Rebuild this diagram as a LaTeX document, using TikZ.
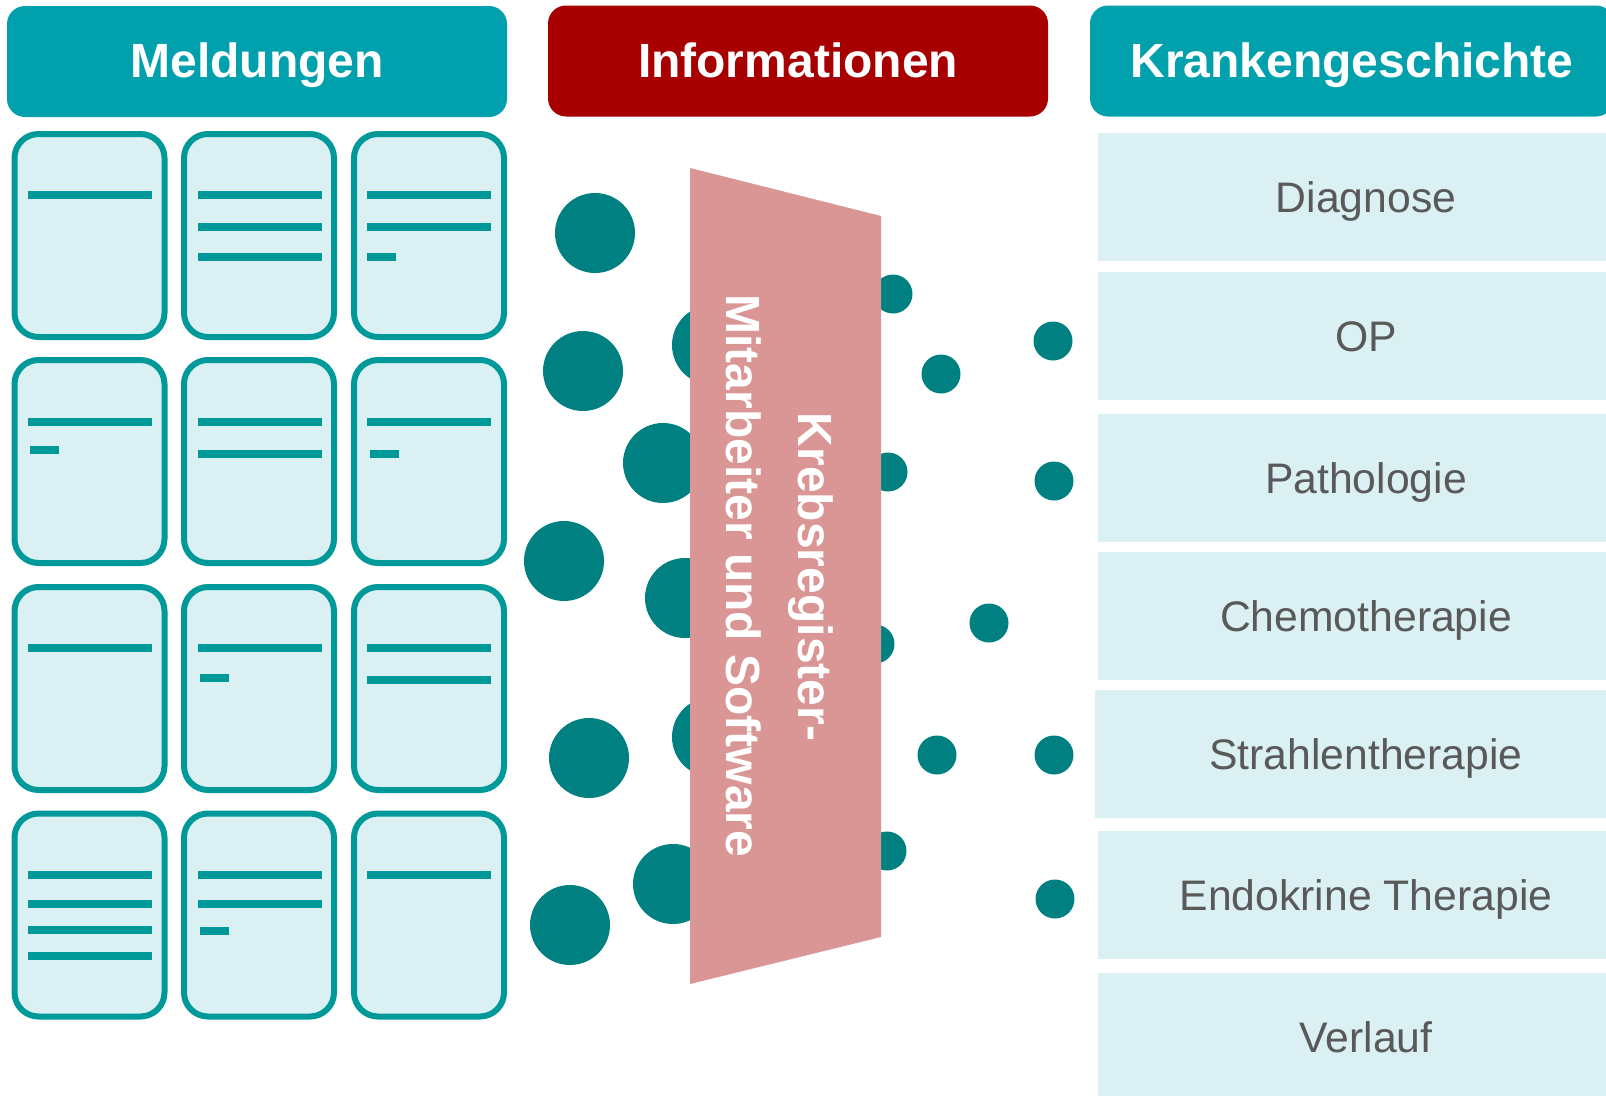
\documentclass[tikz,border=0pt]{standalone}
\usepackage{fontspec}
\setmainfont{Liberation Sans}
\definecolor{hdrteal}{RGB}{0,161,173}
\definecolor{cardline}{RGB}{0,153,153}
\definecolor{cardfill}{RGB}{218,240,242}
\definecolor{dotc}{RGB}{0,128,128}
\definecolor{hdrred}{RGB}{168,0,0}
\definecolor{pinkc}{RGB}{217,150,148}
\definecolor{graytext}{RGB}{89,89,89}
\begin{document}
\begin{tikzpicture}[x=1pt,y=-1pt,
  hdrbox/.style={fill=#1, rounded corners=18pt, inner sep=0pt, minimum height=111pt},
  hdrtext/.style={text=white, inner sep=0pt, anchor=base, font=\bfseries\fontsize{48}{57}\selectfont},
  card/.style={draw=cardline, fill=cardfill, line width=6pt, rounded corners=24pt, inner sep=0pt, minimum width=150pt, minimum height=203pt},
  cline/.style={draw=cardline, line width=8pt},
  rbox/.style={fill=cardfill, inner sep=0pt, minimum height=128pt, text=graytext, text height=31pt, text depth=0pt, font=\fontsize{42.7}{50}\selectfont},
  bigdot/.style={fill=dotc},
  trtext/.style={text=white, inner sep=0pt, anchor=base, rotate=-90, font=\bfseries\fontsize{48}{57}\selectfont}
]
\useasboundingbox (0,0) rectangle (1606,1095);
\fill[white] (0,0) rectangle (1606,1095);
\clip (0,0) rectangle (1606,1095);

% headers
\node[hdrbox=hdrteal, minimum width=500pt] (hmeld) at (257,61.5) {};
\node[hdrtext] (tmeld) at (257,77) {Meldungen};
\node[hdrbox=hdrred, minimum width=500pt] (hinfo) at (798,61) {};
\node[hdrtext] (tinfo) at (798,77) {Informationen};
\node[hdrbox=hdrteal, minimum width=524pt] (hkrank) at (1352,61) {};
\node[hdrtext] (tkrank) at (1352,77) {Krankengeschichte};

% cards
\foreach \cx [count=\i] in {89.5,259,429}{
  \foreach \cy [count=\j] in {235.5,461.5,688.5,915}{
    \node[card] (card\j\i) at (\cx,\cy) {};
  }
}
% row 1
\draw[cline] (28,195) -- (152,195);
\draw[cline] (198,195) -- (322,195);
\draw[cline] (198,227) -- (322,227);
\draw[cline] (198,257) -- (322,257);
\draw[cline] (367,195) -- (491,195);
\draw[cline] (367,227) -- (491,227);
\draw[cline] (367,257) -- (396,257);
% row 2
\draw[cline] (28,422) -- (152,422);
\draw[cline] (30,450) -- (59,450);
\draw[cline] (198,422) -- (322,422);
\draw[cline] (198,454) -- (322,454);
\draw[cline] (367,422) -- (491,422);
\draw[cline] (370,454) -- (399,454);
% row 3
\draw[cline] (28,648) -- (152,648);
\draw[cline] (198,648) -- (322,648);
\draw[cline] (200,678) -- (229,678);
\draw[cline] (367,648) -- (491,648);
\draw[cline] (367,680) -- (491,680);
% row 4
\draw[cline] (28,875) -- (152,875);
\draw[cline] (28,904) -- (152,904);
\draw[cline] (28,930) -- (152,930);
\draw[cline] (28,956) -- (152,956);
\draw[cline] (198,875) -- (322,875);
\draw[cline] (198,904) -- (322,904);
\draw[cline] (200,931) -- (229,931);
\draw[cline] (367,875) -- (491,875);

% dots (left, big)
\foreach \x/\y in {595/233,583/371,663/463,564/561,589/758,570/925,712/345,685/598,712/737,673/884}{
  \fill[bigdot] (\x,\y) circle[radius=40pt];
}
% dots (right, small)
\foreach \x/\y in {893/294,1053/341,941/374,888/472,1054/481,989/623,875/644,937/755,1054/755,887/851,1055/899}{
  \fill[bigdot] (\x,\y) circle[radius=19.5pt];
}

% trapezoid
\fill[pinkc] (690,168) -- (881,216) -- (881,937) -- (690,984) -- cycle;
\node[trtext] (tkreb) at (798,577) {Krebsregister-};
\node[trtext] (tmit) at (726,576) {Mitarbeiter und Software};

% right boxes
\node[rbox, minimum width=536pt] (rdiag) at (1366,197) {Diagnose};
\node[rbox, minimum width=536pt] (rop) at (1366,336) {OP};
\node[rbox, minimum width=536pt] (rpath) at (1366,478) {Pathologie};
\node[rbox, minimum width=536pt] (rchemo) at (1366,616) {Chemotherapie};
\node[rbox, minimum width=542pt] (rstrahl) at (1366,753.5) {Strahlentherapie};
\node[rbox, minimum width=536pt] (rendo) at (1366,895) {Endokrine Therapie};
\node[rbox, minimum width=536pt] (rverl) at (1366,1037) {Verlauf};
\end{tikzpicture}
\end{document}
